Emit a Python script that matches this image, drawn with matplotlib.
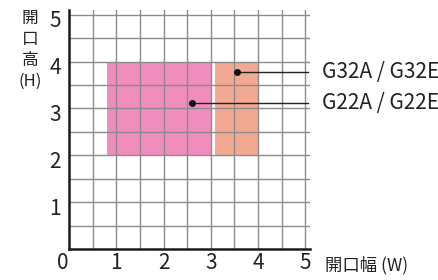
import numpy as np
import matplotlib
matplotlib.use('Agg')
import matplotlib.pyplot as plt
import matplotlib.transforms as mtransforms

plt.rcParams['font.family'] = ['Noto Sans CJK JP', 'DejaVu Sans']

# opening ranges (W x H)
models = ['G22A / G22E', 'G32A / G32E']
w_min = [0.8, 3.08]
w_max = [3.0, 4.0]
h_min = [2.0, 2.0]
h_max = [4.0, 4.0]
colors = ['#f08dbd', '#f2a992']
# marker points for the leader lines
dot_x = [2.6, 3.55]
dot_y = [3.12, 3.78]

ticks = [0, 1, 2, 3, 4, 5]

fig = plt.figure(figsize=(4.39, 2.80), dpi=100)
ax = fig.add_axes([69/439, 31/280, 241/439, 239/280])
ax.set_xlim(0, 5.1)
ax.set_ylim(0, 5.1)

for i in range(len(models)):
    ax.fill_between([w_min[i], w_max[i]], h_min[i], h_max[i], color=colors[i], lw=0, zorder=1)

grid = np.arange(0.5, 5.01, 0.5)
for g in grid:
    ax.axvline(g, color='#8c8c8c', lw=1.0, zorder=2)
    ax.axhline(g, color='#8c8c8c', lw=1.0, zorder=2)

for i in range(len(models)):
    ax.plot([dot_x[i], 5.06], [dot_y[i], dot_y[i]], color='#222222', lw=1.0, zorder=3, clip_on=False)
    ax.plot(dot_x[i], dot_y[i], 'o', color='#111111', ms=4, zorder=4)
    ax.annotate(models[i], xy=(5.1, dot_y[i]), xycoords='data', xytext=(9, 0),
                textcoords='offset points', va='center', ha='left', fontsize=15,
                color='#222222', annotation_clip=False)

for s in ['top', 'right']:
    ax.spines[s].set_visible(False)
for s in ['left', 'bottom']:
    ax.spines[s].set_linewidth(1.8)
    ax.spines[s].set_color('#1a1a1a')
    ax.spines[s].set_zorder(5)

ax.set_xticks(ticks)
ax.set_xticklabels([str(t) for t in ticks], fontsize=15, color='#222222')
ax.set_yticks(ticks[1:])
ax.set_yticklabels([str(t) for t in ticks[1:]], fontsize=15, color='#222222')
ax.tick_params(length=0)
ax.tick_params(axis='x', pad=2)
ax.tick_params(axis='y', pad=6)

# nudge labels like the original artwork
for lab in ax.get_yticklabels():
    lab.set_transform(lab.get_transform() + mtransforms.ScaledTranslation(0, -4/100, fig.dpi_scale_trans))
xl = ax.get_xticklabels()
xl[0].set_transform(xl[0].get_transform() + mtransforms.ScaledTranslation(-6/100, 0, fig.dpi_scale_trans))

fig.text(30/439, 1 - 10/280, '開\n口\n高\n(H)', ha='center', va='top', fontsize=12,
         color='#222222', linespacing=1.3)
fig.text(325/439, 1 - 265/280, '開口幅 (W)', ha='left', va='center', fontsize=12.5, color='#222222')

fig.savefig('out.png', dpi=100)
